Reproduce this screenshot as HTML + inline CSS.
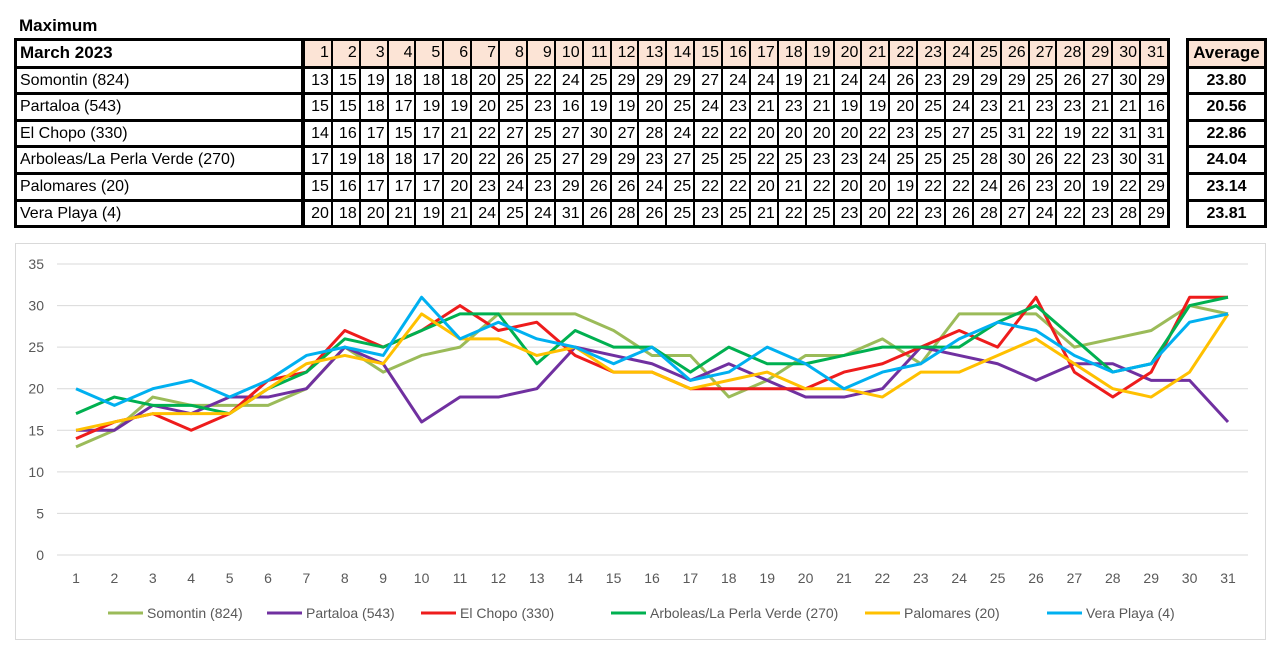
<!DOCTYPE html>
<html><head><meta charset="utf-8">
<style>
body{margin:0;width:1280px;height:649px;background:#fff;font-family:"Liberation Sans",sans-serif;position:relative;overflow:hidden}
.c{position:absolute;box-sizing:border-box;font-size:16px;line-height:24px;color:#000}
</style></head><body>
<div class="c" style="left:19px;top:14px;font-weight:bold;font-size:17px">Maximum</div>
<div id="tbl"></div>
<div style="position:absolute;left:15px;top:243px;width:1251px;height:397px;border:1px solid #d9d9d9;box-sizing:border-box"></div>
<svg id="chart" width="1280" height="649" style="position:absolute;left:0;top:0"></svg>
<script>
const stations=["Somontin (824)","Partaloa (543)","El Chopo (330)","Arboleas/La Perla Verde (270)","Palomares (20)","Vera Playa (4)"];
const colors=["#9bbb59","#7030a0","#ee1c1c","#00b050","#ffc000","#00b0f0"];
const averages=["23.80","20.56","22.86","24.04","23.14","23.81"];
const somontin=[13,15,19,18,18,18,20,25,22,24,25,29,29,29,27,24,24,19,21,24,24,26,23,29,29,29,25,26,27,30,29];
const partaloa=[15,15,18,17,19,19,20,25,23,16,19,19,20,25,24,23,21,23,21,19,19,20,25,24,23,21,23,23,21,21,16];
const elchopo=[14,16,17,15,17,21,22,27,25,27,30,27,28,24,22,22,20,20,20,20,22,23,25,27,25,31,22,19,22,31,31];
const arboleas=[17,19,18,18,17,20,22,26,25,27,29,29,23,27,25,25,22,25,23,23,24,25,25,25,28,30,26,22,23,30,31];
const palomares=[15,16,17,17,17,20,23,24,23,29,26,26,24,25,22,22,20,21,22,20,20,19,22,22,24,26,23,20,19,22,29];
const vera=[20,18,20,21,19,21,24,25,24,31,26,28,26,25,23,25,21,22,25,23,20,22,23,26,28,27,24,22,23,28,29];
const series=[somontin,partaloa,elchopo,arboleas,palomares,vera];
const days=Array.from({length:31},(_,i)=>i+1);
const yTicks=[0,5,10,15,20,25,30,35];

// table
const tbl=document.getElementById('tbl');
const top0=40,rh=26.6,nameL=16,nameW=288,dayL=304,dw=27.87;
function cell(x,y,w,h,txt,st){const d=document.createElement('div');d.className='c';d.style.cssText=`left:${x}px;top:${y}px;width:${w}px;height:${h}px;border:1px solid #000;padding:0 3px;${st||''}`;d.textContent=txt;tbl.appendChild(d);return d;}
// outer borders
const ob=document.createElement('div');ob.style.cssText=`position:absolute;left:${nameL-2}px;top:${top0-2}px;width:${nameW+31*dw+4}px;height:${7*rh+4}px;border:3px solid #000;box-sizing:border-box`;


tbl.appendChild(ob);
let h=cell(nameL,top0,nameW,rh,"March 2023","font-weight:bold;font-size:17px;border-width:1px 3px 1px 1px");


days.forEach((d,i)=>{const e=cell(dayL+i*dw,top0,dw,rh,d,"background:#fce4d6;text-align:right;padding:0 2px");

});
stations.forEach((s,r)=>{const y=top0+(r+1)*rh;
const n=cell(nameL,y,nameW,rh,s,"border-right-width:3px;border-top-width:2px");


series[r].forEach((v,i)=>{const e=cell(dayL+i*dw,y,dw,rh,v,"text-align:right;padding:0 2px;border-top-width:2px");

});});
const ab=document.createElement('div');ab.style.cssText=`position:absolute;left:1186px;top:${top0-2}px;width:81px;height:${7*rh+4}px;border:3px solid #000;box-sizing:border-box`;


tbl.appendChild(ab);
let a=cell(1188,top0,77,rh,"Average","background:#fce4d6;font-weight:bold;text-align:center;font-size:17px");


averages.forEach((v,r)=>{const e=cell(1188,top0+(r+1)*rh,77,rh,v,"font-weight:bold;text-align:center;border-top-width:2px");

});

// chart
const svg=document.getElementById('chart');const NS="http://www.w3.org/2000/svg";
const X=d=>76+(d-1)*(1228-76)/30;const Y=v=>555-v*(555-264)/35;
function mk(t,at){const e=document.createElementNS(NS,t);for(const k in at)e.setAttribute(k,at[k]);svg.appendChild(e);return e;}
yTicks.forEach(t=>{const g=mk('line',{x1:57,x2:1248,y1:Y(t),y2:Y(t),stroke:'#d9d9d9','stroke-width':1});


const l=mk('text',{x:44,y:Y(t)+5,'text-anchor':'end','font-size':14,fill:'#595959','font-family':'Liberation Sans'});l.textContent=t;

});
days.forEach(d=>{const l=mk('text',{x:X(d),y:583,'text-anchor':'middle','font-size':14,fill:'#595959','font-family':'Liberation Sans'});l.textContent=d;

});
series.forEach((s,i)=>{const p=mk('polyline',{points:s.map((v,j)=>X(days[j])+','+Y(v)).join(' '),fill:'none',stroke:colors[i],'stroke-width':3,'stroke-linejoin':'round'});

});
const legX=[108,267,421,611,865,1047];
stations.forEach((s,i)=>{const g=mk('line',{x1:legX[i],x2:legX[i]+35,y1:613,y2:613,stroke:colors[i],'stroke-width':3});


const t=mk('text',{x:legX[i]+39,y:618,'font-size':14,fill:'#595959','font-family':'Liberation Sans'});t.textContent=s;

});
</script>
</body></html>
